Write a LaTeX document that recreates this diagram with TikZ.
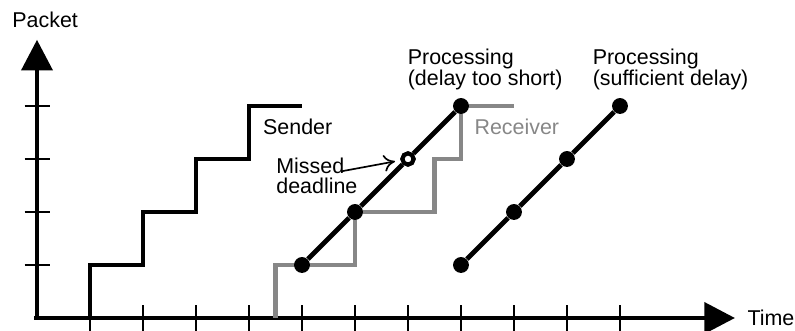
\documentclass[tikz,border=0pt]{standalone}
\usepackage{fontspec}
\setmainfont{Liberation Sans}
\usepackage{tikz}
\usetikzlibrary{arrows.meta}
\definecolor{sqsqsq}{rgb}{0.53,0.53,0.53}
\tikzstyle{every node}=[font=\fontsize{11.5}{11}\selectfont]
\tikzstyle{dot}=[circle,fill=black,inner sep=0pt,minimum size=0.3cm]
\tikzstyle{hollowdot}=[circle,draw=black,fill=white,line width=2.2pt,inner sep=0pt,minimum size=0.21cm]
\tikzstyle{lbl}=[anchor=west,align=left,inner sep=0pt]

\begin{document}
\begin{tikzpicture}[line cap=butt,line join=miter,x=1.0cm,y=1.0cm]
            \useasboundingbox (-0.698,-0.245) rectangle (14.302,6.0);
            % axes
            \draw [line width=2.6pt,-{Triangle[length=0.58cm,width=0.58cm]}] (0,0) -- (0,5.25);
            \draw [line width=2.6pt,-{Triangle[length=0.58cm,width=0.58cm]}] (-0.05,0) -- (13.17,0);
            \foreach \i in {1,...,11}
                \draw [line width=1.2pt] (\i,0.245) -- (\i,-0.245);
            \foreach \j in {1,...,4}
                \draw [line width=1.2pt] (-0.235,\j) -- (0.24,\j);
            \node [lbl] (packet) at (-0.47,5.63) {Packet};
            \node [lbl] (time) at (13.4,0) {Time};

            % sender and receiver steps
            \draw [line width=2.6pt] (1,0) -- (1,1) -- (2,1) -- (2,2) -- (3,2) -- (3,3) -- (4,3) -- (4,4) -- (5,4);
            \draw [line width=2.6pt,color=sqsqsq] (4.5,0) -- (4.5,1) -- (6,1) -- (6,2) -- (7.5,2) -- (7.5,3) -- (8,3) -- (8,4) -- (9,4);
            \node [lbl] (sender) at (4.26,3.6) {Sender};
            \node [lbl,text=sqsqsq] (receiver) at (8.25,3.6) {Receiver};

            % processing with a delay that is too short
            \node [dot] (s1) at (5,1) {};
            \node [dot] (s2) at (6,2) {};
            \node [hollowdot] (s3) at (7,3) {};
            \node [dot] (s4) at (8,4) {};
            \draw [line width=2.6pt] (s1) -- (s2) -- (s3) -- (s4);
            \node [hollowdot] at (7,3) {};
            \node [lbl,anchor=south west] (short) at (6.99,4.3) {Processing\\(delay too short)};

            % processing with a sufficient delay
            \node [dot] (d1) at (8,1) {};
            \node [dot] (d2) at (9,2) {};
            \node [dot] (d3) at (10,3) {};
            \node [dot] (d4) at (11,4) {};
            \draw [line width=2.6pt] (d1) -- (d2) -- (d3) -- (d4);
            \node [lbl,anchor=south west] (enough) at (10.48,4.3) {Processing\\(sufficient delay)};

            % missed deadline
            \node [lbl] (missed) at (4.51,2.68) {Missed\\deadline};
            \draw [line width=0.9pt,-{To[length=6pt,width=9pt]},shorten >=3pt] (missed.north west) ++(1.24,-0.26) coordinate (m) -- (s3);
            \end{tikzpicture}
\end{document}
